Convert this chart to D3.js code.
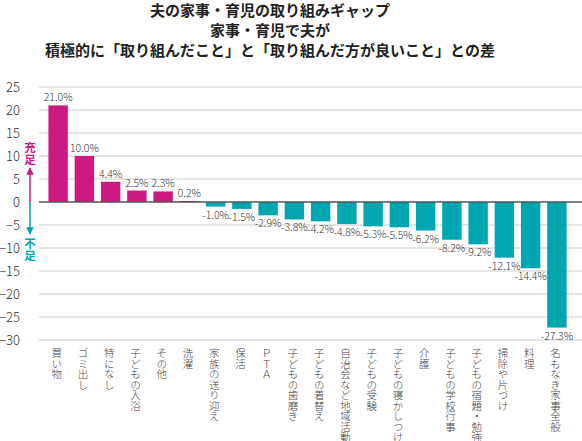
<!DOCTYPE html>
<html><head><meta charset="utf-8">
<script src="https://cdn.jsdelivr.net/npm/d3@7"></script>
<style>
body{margin:0;background:#fff;}
svg{display:block;font-family:"Noto Sans CJK JP","Noto Sans",sans-serif;}
</style></head>
<body><svg id="c" width="582" height="441"></svg>
<script>
const titleLines = ["夫の家事・育児の取り組みギャップ","家事・育児で夫が","積極的に「取り組んだこと」と「取り組んだ方が良いこと」との差"];
const categories = ["買い物","ゴミ出し","特になし","子どもの入浴","その他","洗濯","家族の送り迎え","保活","ＰＴＡ","子どもの歯磨き","子どもの着替え","自治会など地域活動","子どもの受験","子どもの寝かしつけ","介護","子どもの学校行事","子どもの宿題・勉強","掃除や片づけ","料理","名もなき家事全般"];
const values = [21.0,10.0,4.4,2.5,2.3,0.2,-1.0,-1.5,-2.9,-3.8,-4.2,-4.8,-5.3,-5.5,-6.2,-8.2,-9.2,-12.1,-14.4,-27.3];
const yTicks = [25,20,15,10,5,0,-5,-10,-15,-20,-25,-30];
const annot = [{t:"充足",up:true},{t:"不足",up:false}];

const pos = "#CC1A82", neg = "#00A7B1";
const svg = d3.select("#c");

const x = d3.scaleBand().domain(categories).range([45,570]).paddingInner(0.26).paddingOuter(0.13);
const y = d3.scaleLinear().domain([-30,25]).range([340,87]);

// title
svg.append("g").selectAll("text").data(titleLines).join("text")
  .attr("x",270).attr("y",(d,i)=>16+i*20).attr("text-anchor","middle")
  .attr("font-size",15).attr("font-weight","bold").attr("fill","#222").text(d=>d);

// grid
svg.append("g").selectAll("line").data(yTicks.filter(t=>t!==0)).join("line")
  .attr("x1",39).attr("x2",582).attr("y1",d=>y(d)).attr("y2",d=>y(d))
  .attr("stroke","#dcdcdc").attr("stroke-width",1.5);

// y axis labels
const yAxis = d3.axisLeft(y).tickValues(yTicks).tickSize(0).tickPadding(0).tickFormat(d3.format("d"));
const ya = svg.append("g").attr("transform","translate(20,0)").call(yAxis);
ya.select(".domain").remove();
ya.selectAll("text").attr("font-size",13).attr("fill","#333").attr("font-family","'Noto Sans CJK JP',sans-serif").attr("font-weight",300);

// bars
svg.append("g").selectAll("rect").data(values).join("rect")
  .attr("x",(d,i)=>x(categories[i])).attr("width",x.bandwidth())
  .attr("y",d=>y(Math.max(0,d))).attr("height",d=>Math.abs(y(d)-y(0)))
  .attr("fill",d=>d>=0?pos:neg);

// zero line
svg.append("line").attr("x1",39).attr("x2",582).attr("y1",y(0)).attr("y2",y(0))
  .attr("stroke","#555").attr("stroke-width",1.5);

// value labels
svg.append("g").selectAll("text").data(values).join("text")
  .attr("x",(d,i)=>x(categories[i])+x.bandwidth()/2)
  .attr("y",d=>d>=0?y(d)-4:y(d)+12)
  .attr("text-anchor","middle").attr("font-size",10.5).attr("font-weight",300).attr("fill","#333")
  .text(d=>d.toFixed(1)+"%");

// x labels vertical
svg.append("g").selectAll("text").data(categories).join("text")
  .attr("transform",d=>`translate(${x(d)+x.bandwidth()/2-1.5},348)`)
  .attr("text-anchor","start")
  .attr("font-size",10.5).attr("font-weight",300).attr("fill","#444")
  .attr("dominant-baseline","central")
  .style("writing-mode","vertical-rl").style("text-orientation","upright")
  .text(d=>d);

// arrows annotation
const defs = svg.append("defs");
[["ap",pos],["an",neg]].forEach(([id,c])=>{
  defs.append("marker").attr("id",id).attr("viewBox","0 0 10 10").attr("refX",9).attr("refY",5)
   .attr("markerWidth",5).attr("markerHeight",5).attr("orient","auto")
   .append("path").attr("d","M0,0L10,5L0,10z").attr("fill",c);
});
svg.append("line").attr("x1",30).attr("x2",30).attr("y1",y(0)).attr("y2",168)
  .attr("stroke",pos).attr("stroke-width",1.5).attr("marker-end","url(#ap)");
svg.append("line").attr("x1",30).attr("x2",30).attr("y1",y(0)).attr("y2",234)
  .attr("stroke",neg).attr("stroke-width",1.5).attr("marker-end","url(#an)");
svg.append("g").selectAll("text").data(annot).join("text")
  .attr("transform",d=>`translate(30,${d.up?142:238})`)
  .attr("text-anchor","start").attr("dominant-baseline","central")
  .style("writing-mode","vertical-rl").style("text-orientation","upright")
  .attr("font-size",11.5).attr("font-weight","bold").attr("fill",d=>d.up?pos:neg).text(d=>d.t);
</script></body></html>
